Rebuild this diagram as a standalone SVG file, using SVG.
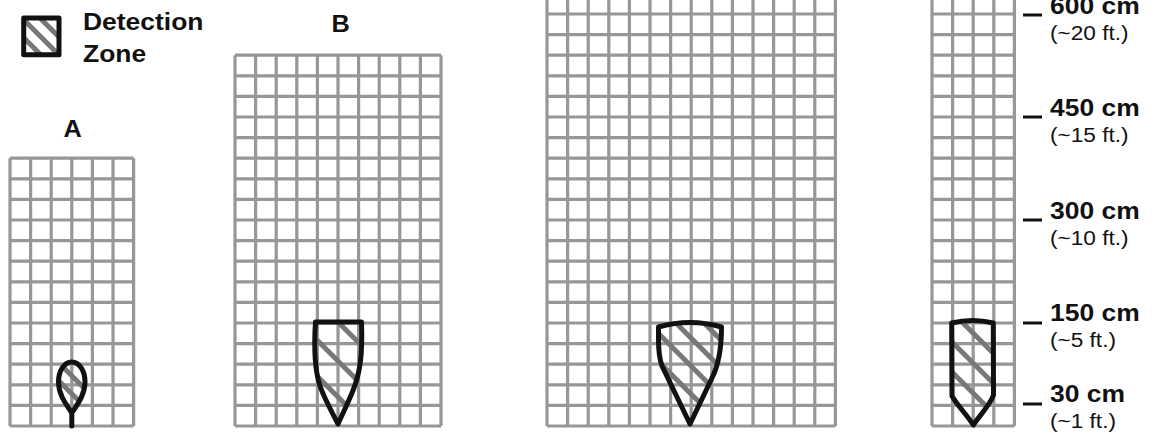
<svg xmlns="http://www.w3.org/2000/svg" width="1160" height="435" viewBox="0 0 1160 435">
<style>
.grid{fill:none;stroke:#979797;stroke-width:3.2}
.zone{fill:none;stroke:#111;stroke-width:5;stroke-linejoin:round;stroke-linecap:round}
.hatch{stroke:#787878;stroke-width:5;fill:none}
.b{font-family:"Liberation Sans",Arial,sans-serif;font-weight:bold;font-size:23px;fill:#111}
.r{font-family:"Liberation Sans",Arial,sans-serif;font-size:19.5px;fill:#111}
.tick{stroke:#111;stroke-width:3}
</style>
<defs>
<clipPath id="cl-legend"><rect x="23.7" y="18" width="35.3" height="36.7"/></clipPath>
<clipPath id="cl-a"><path d="M71.8,362 C79.5,362 85,371 85,382 C85,395 77,405 71.8,413 C66.6,405 58.5,395 58.5,382 C58.5,371 64,362 71.8,362 Z"/></clipPath>
<clipPath id="cl-b"><path d="M315.5,322 L361.5,322 C362.5,352 361,372 352,393 C347,405 342,415 338,424 C332,412 325,400 320,386 C314,368 314,345 315.5,322 Z"/></clipPath>
<clipPath id="cl-c"><path d="M658.5,327 Q690,318 721.5,327 C721.5,345 720,362 712,378 L690,424 L662,366 Q658.5,356 658.5,340 Z"/></clipPath>
<clipPath id="cl-d"><path d="M951.7,323 Q972.5,318 993.3,323 L993.5,395 C990,405 980,415 973.3,425 C967,415 957,405 952,396 Z"/></clipPath>
</defs>
<rect width="1160" height="435" fill="#fff"/>

<g id="legend">
<g clip-path="url(#cl-legend)">
<path class="hatch" stroke-width="4" d="M0,-22 L80,58 M0,-4 L80,76 M0,14 L80,94"/>
</g>
<rect class="zone" x="23.7" y="18" width="35.3" height="36.7" stroke-linejoin="miter"/>
<text class="b" font-size="24" transform="translate(83,30) scale(1.15,1)">Detection</text>
<text class="b" font-size="24" transform="translate(83,61.5) scale(1.15,1)">Zone</text>
</g>

<g id="grid-a">
<text class="b" font-size="24" text-anchor="middle" transform="translate(72.5,137) scale(1.1,1)">A</text>
<path class="grid" d="M10,158.2 H133.6 M10,178.8 H133.6 M10,199.4 H133.6 M10,220 H133.6 M10,240.6 H133.6 M10,261.2 H133.6 M10,281.8 H133.6 M10,302.4 H133.6 M10,323 H133.6 M10,343.6 H133.6 M10,364.2 H133.6 M10,384.8 H133.6 M10,405.4 H133.6 M10,426 H133.6
M10,158.2 V426 M30.6,158.2 V426 M51.2,158.2 V426 M71.8,158.2 V426 M92.4,158.2 V426 M113,158.2 V426 M133.6,158.2 V426"/>
<g clip-path="url(#cl-a)">
<path class="hatch" stroke-width="4" d="M40,344 L110,414 M40,362 L110,432 M40,380 L110,450"/>
</g>
<path class="zone" d="M71.8,362 C79.5,362 85,371 85,382 C85,395 77,405 71.8,413 C66.6,405 58.5,395 58.5,382 C58.5,371 64,362 71.8,362 Z M71.8,413 V426"/>
</g>

<g id="grid-b">
<text class="b" font-size="24" text-anchor="middle" transform="translate(340.5,32) scale(1.1,1)">B</text>
<path class="grid" d="M235,55.2 H441 M235,75.8 H441 M235,96.4 H441 M235,117 H441 M235,137.6 H441 M235,158.2 H441 M235,178.8 H441 M235,199.4 H441 M235,220 H441 M235,240.6 H441 M235,261.2 H441 M235,281.8 H441 M235,302.4 H441 M235,323 H441 M235,343.6 H441 M235,364.2 H441 M235,384.8 H441 M235,405.4 H441 M235,426 H441
M235,55.2 V426 M255.6,55.2 V426 M276.2,55.2 V426 M296.8,55.2 V426 M317.4,55.2 V426 M338,55.2 V426 M358.6,55.2 V426 M379.2,55.2 V426 M399.8,55.2 V426 M420.4,55.2 V426 M441,55.2 V426"/>
<g clip-path="url(#cl-b)">
<path class="hatch" d="M300,284 L380,364 M300,323 L380,403 M300,359 L380,439"/>
</g>
<path class="zone" d="M315.5,322 L361.5,322 C362.5,352 361,372 352,393 C347,405 342,415 338,424 C332,412 325,400 320,386 C314,368 314,345 315.5,322 Z"/>
</g>

<g id="grid-c">
<path class="grid" d="M547,-6.6 H835.4 M547,14 H835.4 M547,34.6 H835.4 M547,55.2 H835.4 M547,75.8 H835.4 M547,96.4 H835.4 M547,117 H835.4 M547,137.6 H835.4 M547,158.2 H835.4 M547,178.8 H835.4 M547,199.4 H835.4 M547,220 H835.4 M547,240.6 H835.4 M547,261.2 H835.4 M547,281.8 H835.4 M547,302.4 H835.4 M547,323 H835.4 M547,343.6 H835.4 M547,364.2 H835.4 M547,384.8 H835.4 M547,405.4 H835.4 M547,426 H835.4
M547,-10 V426 M567.6,-10 V426 M588.2,-10 V426 M608.8,-10 V426 M629.4,-10 V426 M650,-10 V426 M670.6,-10 V426 M691.2,-10 V426 M711.8,-10 V426 M732.4,-10 V426 M753,-10 V426 M773.6,-10 V426 M794.2,-10 V426 M814.8,-10 V426 M835.4,-10 V426"/>
<g clip-path="url(#cl-c)">
<path class="hatch" d="M640,259 L740,359 M640,287 L740,387 M640,315 L740,415 M640,343 L740,443"/>
</g>
<path class="zone" d="M658.5,327 Q690,318 721.5,327 C721.5,345 720,362 712,378 L690,424 L662,366 Q658.5,356 658.5,340 Z"/>
</g>

<g id="grid-d">
<path class="grid" d="M932,-6.6 H1014.4 M932,14 H1014.4 M932,34.6 H1014.4 M932,55.2 H1014.4 M932,75.8 H1014.4 M932,96.4 H1014.4 M932,117 H1014.4 M932,137.6 H1014.4 M932,158.2 H1014.4 M932,178.8 H1014.4 M932,199.4 H1014.4 M932,220 H1014.4 M932,240.6 H1014.4 M932,261.2 H1014.4 M932,281.8 H1014.4 M932,302.4 H1014.4 M932,323 H1014.4 M932,343.6 H1014.4 M932,364.2 H1014.4 M932,384.8 H1014.4 M932,405.4 H1014.4 M932,426 H1014.4
M932,-10 V426 M952.6,-10 V426 M973.2,-10 V426 M993.8,-10 V426 M1014.4,-10 V426"/>
<g clip-path="url(#cl-d)">
<path class="hatch" d="M940,300 L1010,370 M940,330 L1010,400 M940,360 L1010,430"/>
</g>
<path class="zone" d="M951.7,323 Q972.5,318 993.3,323 L993.5,395 C990,405 980,415 973.3,425 C967,415 957,405 952,396 Z"/>
</g>

<g id="scale">
<path class="tick" d="M1023,15 H1042 M1023,117 H1042 M1023,220 H1042 M1023,323 H1042 M1023,404 H1042"/>
<text class="b" transform="translate(1050,14) scale(1.15,1)">600 cm</text>
<text class="r" transform="translate(1050,39.5) scale(1.16,1)">(~20 ft.)</text>
<text class="b" transform="translate(1050,116) scale(1.15,1)">450 cm</text>
<text class="r" transform="translate(1050,141.5) scale(1.16,1)">(~15 ft.)</text>
<text class="b" transform="translate(1050,219) scale(1.15,1)">300 cm</text>
<text class="r" transform="translate(1050,244.5) scale(1.16,1)">(~10 ft.)</text>
<text class="b" transform="translate(1050,321) scale(1.15,1)">150 cm</text>
<text class="r" transform="translate(1050,346.5) scale(1.16,1)">(~5 ft.)</text>
<text class="b" transform="translate(1050,402) scale(1.15,1)">30 cm</text>
<text class="r" transform="translate(1050,428) scale(1.16,1)">(~1 ft.)</text>
</g>
</svg>
